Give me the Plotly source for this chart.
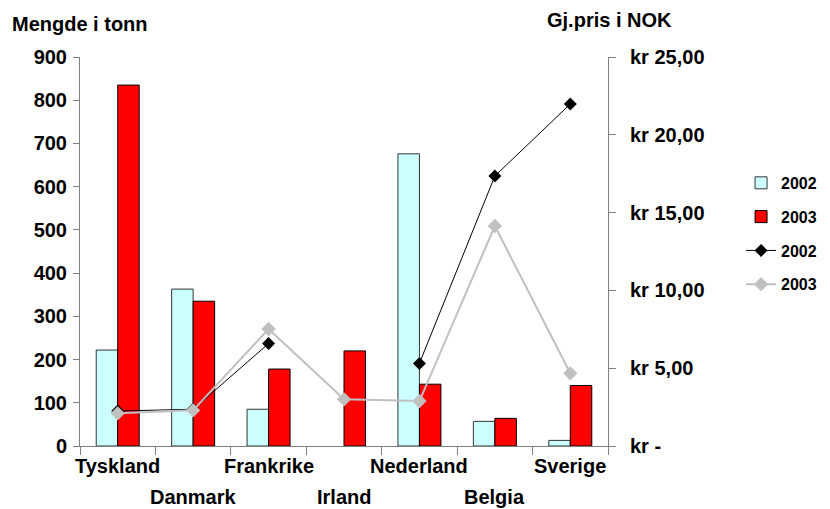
import plotly.graph_objects as go

categories = ["Tyskland", "Danmark", "Frankrike", "Irland", "Nederland", "Belgia", "Sverige"]
mengde_2002 = [222, 363, 85, None, 676, 57, 13]
mengde_2003 = [835, 335, 178, 220, 143, 64, 140]
pris_2002 = [2.25, 2.36, 6.58, None, 5.31, 17.35, 21.98]
pris_2003 = [2.10, 2.29, 7.52, 3.00, 2.89, 14.14, 4.67]
left_ticks = [0, 100, 200, 300, 400, 500, 600, 700, 800, 900]
right_ticks = [0, 5, 10, 15, 20, 25]
right_ticktext = ["kr -", "kr 5,00", "kr 10,00", "kr 15,00", "kr 20,00", "kr 25,00"]

FONT = "Liberation Sans, Arial, sans-serif"
AXIS_COLOR = "#7f7f7f"

# the page body adds an 8px margin; compensate so the plot sits where the reference has it
W, H = 822, 501
L, R, T, B = 72, 222, 49, 63
PW = W - L - R
PH = H - T - B

fig = go.Figure()
fig.add_trace(go.Bar(x=categories, y=mengde_2002, name="2002",
                     marker=dict(color="#CCFFFF", line=dict(color="#333333", width=1)),
                     legendgroup="a"))
fig.add_trace(go.Bar(x=categories, y=mengde_2003, name="2003",
                     marker=dict(color="#FF0000", line=dict(color="#000000", width=1)),
                     legendgroup="b"))
fig.add_trace(go.Scatter(x=categories, y=pris_2002, name="2002", yaxis="y2",
                         mode="lines+markers", connectgaps=False,
                         line=dict(color="#000000", width=1),
                         marker=dict(symbol="diamond", size=10, color="#000000"),
                         legendgroup="c"))
fig.add_trace(go.Scatter(x=categories, y=pris_2003, name="2003", yaxis="y2",
                         mode="lines+markers", connectgaps=False,
                         line=dict(color="#C0C0C0", width=2),
                         marker=dict(symbol="diamond", size=11, color="#C0C0C0"),
                         legendgroup="d"))

bold = lambda s: dict(family=FONT, size=s, color="black", weight="bold")

annotations = []
for i, c in enumerate(categories):
    annotations.append(dict(x=c, xref="x", y=0, yref="paper", text=c, showarrow=False,
                            yanchor="middle", xanchor="center",
                            yshift=-20 if i % 2 == 0 else -51,
                            font=bold(20)))
annotations.append(dict(x=(2 - L) / PW, xref="paper", xanchor="left",
                        y=(PH + T - 16) / PH, yref="paper", yanchor="middle",
                        text="Mengde i tonn", showarrow=False, font=bold(20)))
annotations.append(dict(x=(601 - L) / PW, xref="paper", xanchor="center",
                        y=(PH + T - 12) / PH, yref="paper", yanchor="middle",
                        text="Gj.pris i NOK", showarrow=False, font=bold(20)))

fig.update_layout(
    width=W, height=H,
    margin=dict(l=L, r=R, t=T, b=B, autoexpand=False),
    paper_bgcolor="white", plot_bgcolor="white",
    barmode="group", bargap=0.43, bargroupgap=0,
    font=bold(20),
    showlegend=True,
    legend=dict(x=1.252, y=0.72, xanchor="left", yanchor="top",
                font=bold(16), tracegroupgap=10, bgcolor="rgba(0,0,0,0)",
                itemwidth=30, borderwidth=0),
    annotations=annotations,
    xaxis=dict(range=[-0.5, 6.5], showticklabels=False, ticks="outside", ticklen=8,
               tickson="boundaries", tickcolor=AXIS_COLOR, showline=True,
               linecolor=AXIS_COLOR, linewidth=1, showgrid=False, zeroline=False),
    yaxis=dict(range=[0, 900], tickvals=left_ticks, ticks="outside", ticklen=6,
               tickcolor=AXIS_COLOR, showline=True, linecolor=AXIS_COLOR, linewidth=1,
               showgrid=False, zeroline=False, ticklabelstandoff=2),
    yaxis2=dict(range=[0, 25], tickvals=right_ticks, ticktext=right_ticktext,
                overlaying="y", side="right", ticks="outside", ticklen=7,
                tickcolor=AXIS_COLOR, showline=True, linecolor=AXIS_COLOR, linewidth=1,
                showgrid=False, zeroline=False, ticklabelstandoff=10),
)

fig.write_html("out.html")
